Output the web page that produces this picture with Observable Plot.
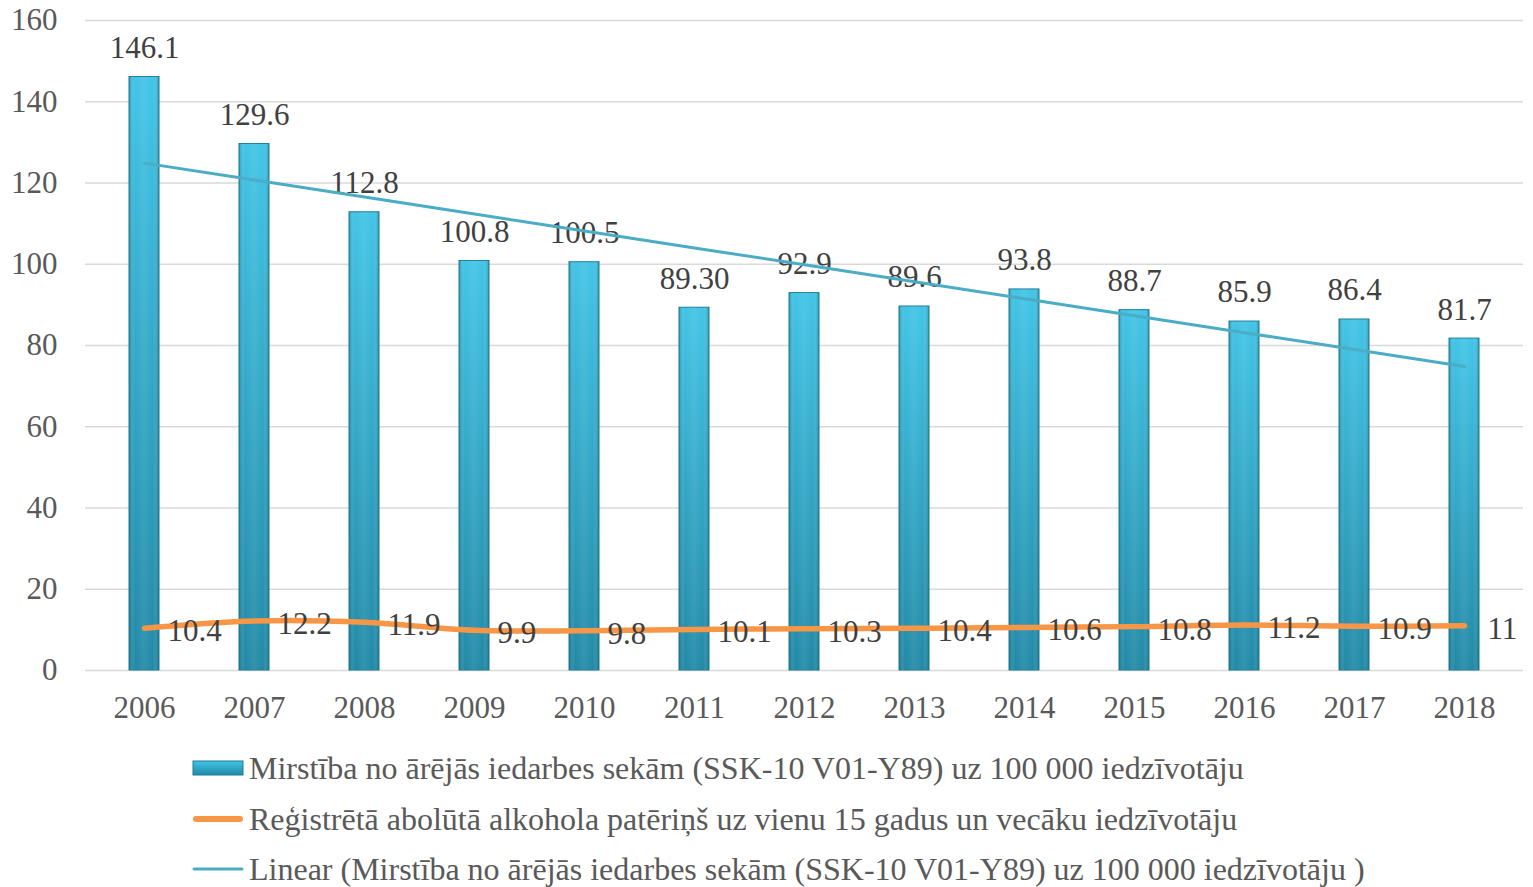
<!DOCTYPE html>
<html><head><meta charset="utf-8">
<script src="https://cdn.jsdelivr.net/npm/d3@7"></script>
<script src="https://cdn.jsdelivr.net/npm/@observablehq/plot@0.6"></script>
<style>
body{margin:0;background:#fff;font-family:"Liberation Serif",serif;}
svg text, svg{font-family:"Liberation Serif",serif !important;}
#legend{margin-top:8px;color:#595959;font-size:32px;font-family:"Liberation Serif",serif;}
.row{height:50.5px;line-height:50px;display:flex;align-items:center;white-space:nowrap;}
.sym{width:52px;margin-left:192px;margin-right:5px;flex:none;}
</style></head><body>
<div id="chart"></div>
<div id="legend"></div>
<script>
const years = ["2006","2007","2008","2009","2010","2011","2012","2013","2014","2015","2016","2017","2018"];
const mortality = [146.1,129.6,112.8,100.8,100.5,89.3,92.9,89.6,93.8,88.7,85.9,86.4,81.7];
const mortalityLabels = ["146.1","129.6","112.8","100.8","100.5","89.30","92.9","89.6","93.8","88.7","85.9","86.4","81.7"];
const alcohol = [10.4,12.2,11.9,9.9,9.8,10.1,10.3,10.4,10.6,10.8,11.2,10.9,11];
const alcoholLabels = ["10.4","12.2","11.9","9.9","9.8","10.1","10.3","10.4","10.6","10.8","11.2","10.9","11"];
const yTicks = [0,20,40,60,80,100,120,140,160];
const legendLabels = [
  "Mirstība no ārējās iedarbes sekām (SSK-10 V01-Y89) uz 100 000 iedzīvotāju",
  "Reģistrētā abolūtā alkohola patēriņš uz vienu 15 gadus un vecāku iedzīvotāju",
  "Linear (Mirstība no ārējās iedarbes sekām (SSK-10 V01-Y89) uz 100 000 iedzīvotāju )"
];

const data = years.map((y,i)=>({year:y, m:mortality[i], ml:mortalityLabels[i], a:alcohol[i], al:alcoholLabels[i]}));
const n = mortality.length;
const mx = d3.mean(d3.range(n)), my = d3.mean(mortality);
const slope = d3.sum(d3.range(n), i => (i-mx)*(mortality[i]-my)) / d3.sum(d3.range(n), i => (i-mx)**2);
const icpt = my - slope*mx;
const trend = years.map((y,i)=>({year:y, t: icpt + slope*i}));

const NS = "http://www.w3.org/2000/svg";
function defsMark(){
  const defs = document.createElementNS(NS,"defs");
  defs.innerHTML = `
  <linearGradient id="barV" x1="0" y1="0" x2="0" y2="1">
    <stop offset="0" stop-color="#41c4e6"/>
    <stop offset="1" stop-color="#2189a6"/>
  </linearGradient>
  <linearGradient id="barH" x1="0" y1="0" x2="1" y2="0">
    <stop offset="0" stop-color="#0b4f63" stop-opacity="0.35"/>
    <stop offset="0.2" stop-color="#ffffff" stop-opacity="0.0"/>
    <stop offset="0.5" stop-color="#ffffff" stop-opacity="0.08"/>
    <stop offset="0.8" stop-color="#ffffff" stop-opacity="0.0"/>
    <stop offset="1" stop-color="#0b4f63" stop-opacity="0.35"/>
  </linearGradient>`;
  return defs;
}

const plot = Plot.plot({
  width: 1533,
  height: 735,
  marginTop: 20,
  marginBottom: 65,
  marginLeft: 85,
  marginRight: 10,
  style: {fontSize: "31px", color: "#595959", background: "#fff", overflow: "visible"},
  x: {domain: years, paddingInner: 0.73, paddingOuter: 0.365, label: null, tickSize: 0, tickPadding: 25},
  y: {domain: [0,160], ticks: yTicks, label: null, tickSize: 0, tickPadding: 28},
  marks: [
    defsMark,
    Plot.ruleY(yTicks, {stroke: "#d9d9d9", strokeWidth: 1.5}),
    Plot.barY(data, {x: "year", y: "m", fill: "url(#barV)", stroke: "#1d7d98", strokeWidth: 1}),
    Plot.barY(data, {x: "year", y: "m", fill: "url(#barH)"}),
    Plot.text(data, {x: "year", y: "m", text: "ml", dy: -29, fill: "#404040", fontSize: 31}),
    Plot.line(trend, {x: "year", y: "t", stroke: "#4bacc6", strokeWidth: 3}),
    Plot.line(data, {x: "year", y: "a", stroke: "#f79646", strokeWidth: 5.5, curve: "catmull-rom", strokeLinecap: "round"}),
    Plot.text(data, {x: "year", y: "a", text: "al", dx: 23, dy: 3, textAnchor: "start", fill: "#404040", fontSize: 31})
  ]
});
document.getElementById("chart").appendChild(plot);

const leg = document.getElementById("legend");
const syms = [
  `<svg class="sym" width="52" height="16"><defs><linearGradient id="lg1" x1="0" y1="0" x2="0" y2="1"><stop offset="0" stop-color="#41c4e6"/><stop offset="1" stop-color="#2189a6"/></linearGradient></defs><rect x="1" y="1" width="50" height="14" fill="url(#lg1)" stroke="#1d7d98"/></svg>`,
  `<svg class="sym" width="52" height="10"><line x1="4" y1="5" x2="48" y2="5" stroke="#f79646" stroke-width="6" stroke-linecap="round"/></svg>`,
  `<svg class="sym" width="52" height="6"><line x1="2" y1="3" x2="50" y2="3" stroke="#4bacc6" stroke-width="3" stroke-linecap="round"/></svg>`
];
legendLabels.forEach((t,i)=>{
  const r = document.createElement("div"); r.className="row";
  r.innerHTML = syms[i] + `<span>${t}</span>`;
  leg.appendChild(r);
});
</script>
</body></html>
